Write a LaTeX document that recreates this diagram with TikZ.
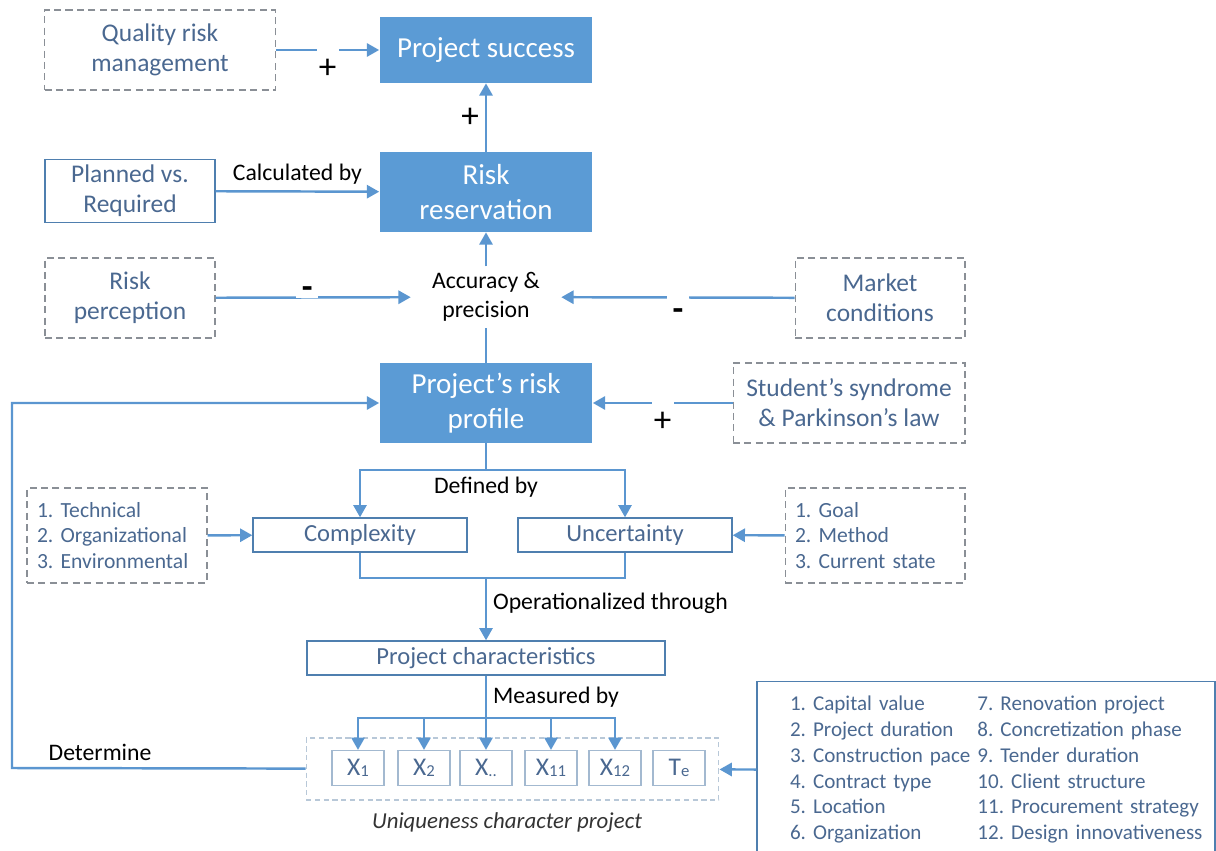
\documentclass[tikz,border=0pt]{standalone}
\usepackage{fontspec}
\setmainfont{Carlito}
\usetikzlibrary{arrows.meta}
\definecolor{boxblue}{HTML}{5B9BD5}
\definecolor{lineblue}{HTML}{5B96D0}
\definecolor{textblue}{HTML}{4A6890}
\definecolor{edgeblue}{HTML}{4F7FAF}
\definecolor{dashgrey}{HTML}{8A8F96}
\definecolor{lightgrey}{HTML}{B8C8D8}
\newcommand{\xsub}[1]{\raisebox{-0.6pt}{\fontsize{9.5}{9.5}\selectfont #1}}
\frenchspacing

\begin{document}
\begin{tikzpicture}[x=0.02cm,y=-0.02cm,
	main/.style={fill=boxblue,text=white,minimum width=4.26cm,minimum height=1.6cm,align=center,font=\fontsize{16.5}{20}\selectfont},
	dbox/.style={draw=dashgrey,dash pattern=on 4pt off 2.5pt,line width=0.6pt,text=textblue,minimum width=3.4cm,minimum height=1.6cm,align=center,font=\fontsize{14.5}{17}\selectfont},
	sbox/.style={draw=edgeblue,line width=0.8pt,text=textblue,minimum width=4.28cm,minimum height=0.68cm,align=center,font=\fontsize{14}{17}\selectfont},
	list/.style={dbox,minimum width=3.6cm,minimum height=1.9cm,text width=3.2cm,align=left,font=\fontsize{12.3}{14.7}\selectfont},
	xbox/.style={draw=lightgrey!80!edgeblue,line width=0.7pt,text=textblue,minimum width=1.04cm,minimum height=0.7cm,font=\fontsize{14.5}{16}\selectfont},
	tag/.style={align=center,font=\fontsize{13.5}{16.5}\selectfont},
	sgn/.style={font=\fontsize{20}{24}\selectfont},
	gap/.style={sgn,fill=white,inner sep=0pt,minimum width=0.44cm},
	line/.style={draw=lineblue,line width=1.4pt},
	arrow/.style={line,-{Triangle[length=7pt,width=7.5pt]}}]
	\useasboundingbox (0,0) rectangle (1216,851);

	\node[dbox,minimum width=4.62cm] (1) at (160,50) {Quality risk\\management};
	\node[main,minimum height=1.32cm] (2) at (486,50) {Project success};
	\node[sbox,minimum width=3.4cm,minimum height=1.12cm,font=\fontsize{14.5}{17}\selectfont] (3) at (130,191) {Planned vs.\\Required};
	\node[main] (4) at (486,192) {Risk\\reservation};
	\node[dbox] (5) at (130,298) {Risk\\perception};
	\node[tag,inner xsep=12pt] (6) at (486,297) {Accuracy \&\\precision};
	\node[dbox] (7) at (880,298) {Market\\conditions};
	\node[main] (8) at (486,403) {Project’s risk\\profile};
	\node[dbox,minimum width=4.64cm] (9) at (849,403) {Student’s syndrome\\\& Parkinson’s law};
	\node[list] (10) at (117,535.5) {1. Technical\\2. Organizational\\3. Environmental};
	\node[sbox] (11) at (360,535) {Complexity};
	\node[sbox] (12) at (625,535) {Uncertainty};
	\node[list] (13) at (875,535.5) {1. Goal\\2. Method\\3. Current state};
	\node[sbox,minimum width=7.16cm] (14) at (486,658) {Project characteristics};
	\node[draw=lightgrey,dash pattern=on 3pt off 2pt,line width=0.6pt,minimum width=8.26cm,minimum height=1.24cm] (15) at (512.5,769) {};
	\node[xbox] (16) at (358,768) {X\xsub{1}};
	\node[xbox] (17) at (424,768) {X\xsub{2}};
	\node[xbox] (18) at (486,768) {X\xsub{..}};
	\node[xbox] (19) at (551,768) {X\xsub{11}};
	\node[xbox] (20) at (615,768) {X\xsub{12}};
	\node[xbox] (21) at (679,768) {T\xsub{e}};
	\node[draw=edgeblue,line width=0.7pt,text=textblue,minimum width=9.16cm,minimum height=3.54cm,inner xsep=0.66cm,text width=7.84cm,align=left,font=\fontsize{12}{14.7}\selectfont] (22) at (986,770)
		{\begin{tabular}{@{}l@{\hspace{0.14cm}}l@{}}
		1. Capital value & 7. Renovation project\\
		2. Project duration & 8. Concretization phase\\
		3. Construction pace & 9. Tender duration\\
		4. Contract type & 10. Client structure\\
		5. Location & 11. Procurement strategy\\
		6. Organization & 12. Design innovativeness
		\end{tabular}};
	\node[font=\fontsize{13}{16}\itshape,text=black!80] (23) at (507,823) {Uniqueness character project};

	\coordinate (d1) at (486,470);
	\coordinate (o1) at (486,578);
	\coordinate (m1) at (486,718);
	\coordinate (l1) at (12,768);

	\draw[arrow] (1) -- node[gap,anchor=north,yshift=1.5pt,text height=17pt] {+} (2);
	\draw[arrow] (4) -- node[sgn,left] {+} (2);
	\draw[arrow] (3) -- node[tag,above] {Calculated by} (4);
	\draw[arrow] (6) -- (4);
	\draw[arrow] (5) -- node[gap,pos=0.47,yshift=3pt,font=\fontsize{20}{24}\bfseries] {-} (6);
	\draw[arrow] (7) -- node[gap,anchor=north,yshift=1.5pt,text height=14pt,font=\fontsize{20}{24}\bfseries] {-} (6);
	\draw[line] (8) -- (6);
	\draw[arrow] (9) -- node[gap,anchor=north,yshift=1.5pt,text height=17pt] {+} (8);
	\draw[arrow] (15) -- node[tag,above,pos=0.7] {Determine} (l1) |- (8);
	\draw[line] (8) -- (d1) node[tag,below] {Defined by};
	\draw[arrow] (d1) -| (11);
	\draw[arrow] (d1) -| (12);
	\draw[arrow] (10) -- (11);
	\draw[arrow] (13) -- (12);
	\draw[line] (11) |- (o1) -| (12);
	\draw[arrow] (o1) -- node[tag,right,pos=0.4] {Operationalized through} (14);
	\draw[line] (14) -- node[tag,right] {Measured by} (m1);
	\draw[arrow] (m1) -| (16);
	\draw[arrow] (m1) -| (17);
	\draw[arrow] (m1) -- (18);
	\draw[arrow] (m1) -| (19);
	\draw[arrow] (m1) -| (20);
	\draw[arrow] (22) -- (15);
\end{tikzpicture}
\end{document}
